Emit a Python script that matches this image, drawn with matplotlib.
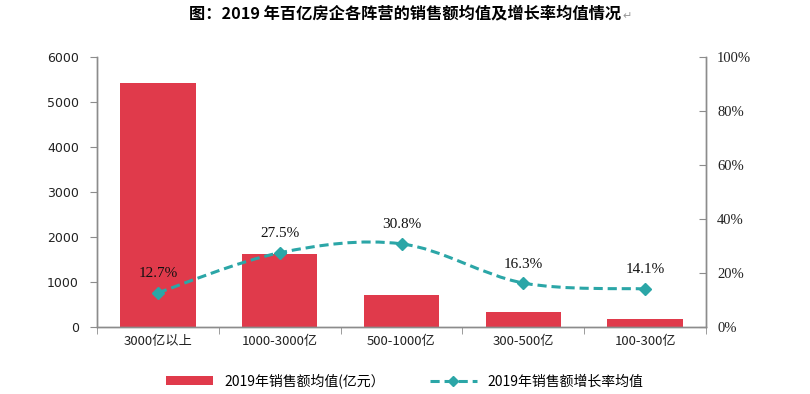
import numpy as np
import matplotlib.pyplot as plt
from matplotlib.path import Path
from matplotlib.patches import PathPatch
from matplotlib.lines import Line2D
from matplotlib.patches import Patch

plt.rcParams['font.family'] = ['Noto Sans CJK SC', 'DejaVu Sans']

categories = ['3000亿以上', '1000-3000亿', '500-1000亿', '300-500亿', '100-300亿']
sales_mean = [5420, 1625, 715, 335, 180]
growth_mean = [12.7, 27.5, 30.8, 16.3, 14.1]
growth_labels = ['12.7%', '27.5%', '30.8%', '16.3%', '14.1%']

bar_color = '#E03A4B'
line_color = '#2BA6A7'
axis_color = '#8C8C8C'

fig = plt.figure(figsize=(8.1, 3.94), dpi=100)
ax = fig.add_axes([0.1198, 0.170, 0.7518, 0.6853])
ax2 = ax.twinx()

x = np.arange(len(categories))
ax.bar(x, sales_mean, width=0.62, color=bar_color, zorder=2)
ax.set_xlim(-0.5, len(categories) - 0.5)
ax.set_ylim(0, 6000)
ax.set_yticks(range(0, 6001, 1000))
ax.set_xticks(x)
ax.set_xticklabels(categories, fontsize=9.5, color='#222222')
ax.set_xticks(np.arange(-0.5, len(categories), 1.0), minor=True)
ax.tick_params(axis='x', which='major', length=0, pad=6)
ax.tick_params(axis='x', which='minor', length=5, color=axis_color, direction='out')
ax.tick_params(axis='y', length=5, color=axis_color, direction='out', pad=8)
for lab in ax.get_yticklabels():
    lab.set_fontfamily('DejaVu Sans')
    lab.set_fontsize(9)
    lab.set_color('#222222')

ax2.set_ylim(0, 100)
ax2.set_yticks(range(0, 101, 20))
ax2.set_yticklabels([f'{v}%' for v in range(0, 101, 20)],
                    fontfamily='Liberation Serif', fontsize=10.5, color='#222222')
ax2.tick_params(axis='y', length=5, color=axis_color, direction='in', pad=8)

for a in (ax, ax2):
    a.spines['top'].set_visible(False)
    for s in ('left', 'right', 'bottom'):
        a.spines[s].set_color(axis_color)
        a.spines[s].set_linewidth(1.0)

# smoothed line (cubic Bezier segments, Catmull-Rom style control points)
px = x.astype(float)
py = np.array(growth_mean, dtype=float)
verts = [(px[0], py[0])]
codes = [Path.MOVETO]
n = len(px)
for i in range(n - 1):
    p0 = np.array([px[max(i - 1, 0)], py[max(i - 1, 0)]])
    p1 = np.array([px[i], py[i]])
    p2 = np.array([px[i + 1], py[i + 1]])
    p3 = np.array([px[min(i + 2, n - 1)], py[min(i + 2, n - 1)]])
    c1 = p1 + (p2 - p0) / 6.0
    c2 = p2 - (p3 - p1) / 6.0
    verts += [tuple(c1), tuple(c2), tuple(p2)]
    codes += [Path.CURVE4] * 3
curve = PathPatch(Path(verts, codes), facecolor='none', edgecolor=line_color,
                  lw=2.2, linestyle=(0, (3, 1.6)), zorder=3)
ax2.add_patch(curve)
ax2.plot(px, py, linestyle='none', marker='D', markersize=6.5,
         color=line_color, zorder=4)

for xi, yi, lab in zip(px, py, growth_labels):
    ax2.annotate(lab, (xi, yi), xytext=(0, 9), textcoords='offset points',
                 ha='center', va='bottom', fontfamily='Liberation Serif',
                 fontsize=11, color='#111111')

fig.text(0.5, 0.965, '图：2019 年百亿房企各阵营的销售额均值及增长率均值情况',
         ha='center', va='center', fontsize=11.7, fontweight='bold',
         family=['Noto Sans CJK SC', 'DejaVu Sans'])
fig.text(0.768, 0.958, '↵', ha='left', va='center', fontsize=8,
         color='#999999', family=['DejaVu Sans'])

handles = [Patch(facecolor=bar_color, edgecolor='none'),
           Line2D([0], [0], color=line_color, lw=2.2, linestyle=(0, (3, 1.6)),
                  marker='D', markersize=5.5)]
fig.legend(handles, ['2019年销售额均值(亿元）', '2019年销售额增长率均值'],
           loc='center', bbox_to_anchor=(0.5, 0.033), ncol=2, frameon=False,
           fontsize=10, handlelength=3.4, handleheight=0.6, columnspacing=3.2)

fig.savefig('out.png', dpi=100)
